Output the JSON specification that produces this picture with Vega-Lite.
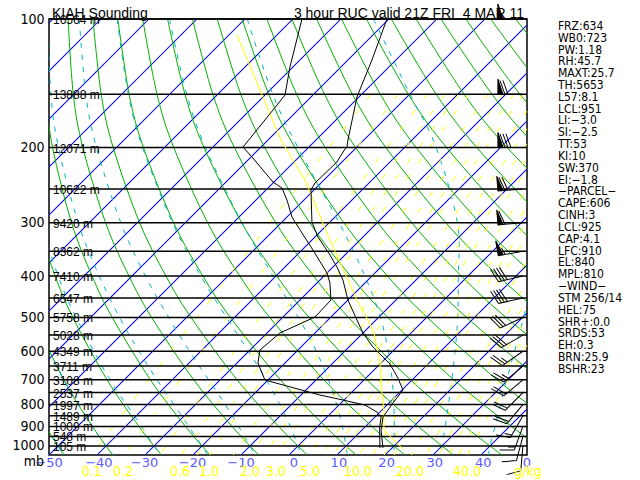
{
"$schema":"https://vega.github.io/schema/vega-lite/v6.json",
"width":478,"height":436,
"autosize":{"type":"none"},
"padding":{"left":49,"top":19,"right":113,"bottom":25},
"background":"white",
"config":{"view":{"stroke":"black","strokeWidth":1.5}},
"datasets":{
"iso":[
{"T":-140,"p":1050,"x":-140},{"T":-140,"p":100,"x":-49.17},
{"T":-130,"p":1050,"x":-130},{"T":-130,"p":100,"x":-39.17},
{"T":-120,"p":1050,"x":-120},{"T":-120,"p":100,"x":-29.17},
{"T":-110,"p":1050,"x":-110},{"T":-110,"p":100,"x":-19.17},
{"T":-100,"p":1050,"x":-100},{"T":-100,"p":100,"x":-9.17},
{"T":-90,"p":1050,"x":-90},{"T":-90,"p":100,"x":0.83},
{"T":-80,"p":1050,"x":-80},{"T":-80,"p":100,"x":10.83},
{"T":-70,"p":1050,"x":-70},{"T":-70,"p":100,"x":20.83},
{"T":-60,"p":1050,"x":-60},{"T":-60,"p":100,"x":30.83},
{"T":-50,"p":1050,"x":-50},{"T":-50,"p":100,"x":40.83},
{"T":-40,"p":1050,"x":-40},{"T":-40,"p":100,"x":50.83},
{"T":-30,"p":1050,"x":-30},{"T":-30,"p":100,"x":60.83},
{"T":-20,"p":1050,"x":-20},{"T":-20,"p":100,"x":70.83},
{"T":-10,"p":1050,"x":-10},{"T":-10,"p":100,"x":80.83},
{"T":0,"p":1050,"x":0},{"T":0,"p":100,"x":90.83},
{"T":10,"p":1050,"x":10},{"T":10,"p":100,"x":100.83},
{"T":20,"p":1050,"x":20},{"T":20,"p":100,"x":110.83},
{"T":30,"p":1050,"x":30},{"T":30,"p":100,"x":120.83},
{"T":40,"p":1050,"x":40},{"T":40,"p":100,"x":130.83}
],
"dry":[
{"th":-50,"p":1050,"x":-46.86},{"th":-50,"p":900,"x":-50.67},{"th":-50,"p":700,"x":-55.97},
{"th":-40,"p":1050,"x":-36.72},{"th":-40,"p":900,"x":-40.96},{"th":-40,"p":700,"x":-46.93},{"th":-40,"p":500,"x":-53.22},
{"th":-30,"p":1050,"x":-26.58},{"th":-30,"p":900,"x":-31.26},{"th":-30,"p":700,"x":-37.9},{"th":-30,"p":500,"x":-45.02},{"th":-30,"p":400,"x":-48.72},{"th":-30,"p":300,"x":-52.39},
{"th":-20,"p":1050,"x":-16.44},{"th":-20,"p":900,"x":-21.56},{"th":-20,"p":700,"x":-28.87},{"th":-20,"p":500,"x":-36.82},{"th":-20,"p":400,"x":-41.02},{"th":-20,"p":300,"x":-45.3},{"th":-20,"p":200,"x":-49.26},{"th":-20,"p":150,"x":-50.75},
{"th":-10,"p":1050,"x":-6.3},{"th":-10,"p":900,"x":-11.85},{"th":-10,"p":700,"x":-19.84},{"th":-10,"p":500,"x":-28.61},{"th":-10,"p":400,"x":-33.33},{"th":-10,"p":300,"x":-38.21},{"th":-10,"p":200,"x":-42.94},{"th":-10,"p":150,"x":-44.94},{"th":-10,"p":100,"x":-46.02},
{"th":0,"p":1050,"x":3.84},{"th":0,"p":900,"x":-2.15},{"th":0,"p":700,"x":-10.81},{"th":0,"p":500,"x":-20.41},{"th":0,"p":400,"x":-25.63},{"th":0,"p":300,"x":-31.12},{"th":0,"p":200,"x":-36.63},{"th":0,"p":150,"x":-39.12},{"th":0,"p":100,"x":-40.84},
{"th":10,"p":1050,"x":13.98},{"th":10,"p":900,"x":7.55},{"th":10,"p":700,"x":-1.78},{"th":10,"p":500,"x":-12.21},{"th":10,"p":400,"x":-17.93},{"th":10,"p":300,"x":-24.03},{"th":10,"p":200,"x":-30.32},{"th":10,"p":150,"x":-33.3},{"th":10,"p":100,"x":-35.66},
{"th":20,"p":1050,"x":24.12},{"th":20,"p":900,"x":17.26},{"th":20,"p":700,"x":7.25},{"th":20,"p":500,"x":-4.0},{"th":20,"p":400,"x":-10.24},{"th":20,"p":300,"x":-16.94},{"th":20,"p":200,"x":-24.0},{"th":20,"p":150,"x":-27.49},{"th":20,"p":100,"x":-30.48},
{"th":30,"p":1050,"x":34.26},{"th":30,"p":900,"x":26.96},{"th":30,"p":700,"x":16.28},{"th":30,"p":500,"x":4.2},{"th":30,"p":400,"x":-2.54},{"th":30,"p":300,"x":-9.85},{"th":30,"p":200,"x":-17.69},{"th":30,"p":150,"x":-21.67},{"th":30,"p":100,"x":-25.3},
{"th":40,"p":1050,"x":44.4},{"th":40,"p":900,"x":36.66},{"th":40,"p":700,"x":25.31},{"th":40,"p":500,"x":12.4},{"th":40,"p":400,"x":5.16},{"th":40,"p":300,"x":-2.76},{"th":40,"p":200,"x":-11.37},{"th":40,"p":150,"x":-15.86},{"th":40,"p":100,"x":-20.12},
{"th":50,"p":1050,"x":54.54},{"th":50,"p":900,"x":46.37},{"th":50,"p":700,"x":34.35},{"th":50,"p":500,"x":20.61},{"th":50,"p":400,"x":12.85},{"th":50,"p":300,"x":4.33},{"th":50,"p":200,"x":-5.06},{"th":50,"p":150,"x":-10.04},{"th":50,"p":100,"x":-14.94},
{"th":60,"p":900,"x":56.07},{"th":60,"p":700,"x":43.38},{"th":60,"p":500,"x":28.81},{"th":60,"p":400,"x":20.55},{"th":60,"p":300,"x":11.42},{"th":60,"p":200,"x":1.26},{"th":60,"p":150,"x":-4.22},{"th":60,"p":100,"x":-9.76},
{"th":70,"p":700,"x":52.41},{"th":70,"p":500,"x":37.01},{"th":70,"p":400,"x":28.25},{"th":70,"p":300,"x":18.51},{"th":70,"p":200,"x":7.57},{"th":70,"p":150,"x":1.59},{"th":70,"p":100,"x":-4.58},
{"th":80,"p":700,"x":61.44},{"th":80,"p":500,"x":45.22},{"th":80,"p":400,"x":35.94},{"th":80,"p":300,"x":25.59},{"th":80,"p":200,"x":13.88},{"th":80,"p":150,"x":7.41},{"th":80,"p":100,"x":0.6},
{"th":90,"p":500,"x":53.42},{"th":90,"p":400,"x":43.64},{"th":90,"p":300,"x":32.68},{"th":90,"p":200,"x":20.2},{"th":90,"p":150,"x":13.22},{"th":90,"p":100,"x":5.78},
{"th":100,"p":500,"x":61.62},{"th":100,"p":400,"x":51.34},{"th":100,"p":300,"x":39.77},{"th":100,"p":200,"x":26.51},{"th":100,"p":150,"x":19.04},{"th":100,"p":100,"x":10.96},
{"th":110,"p":400,"x":59.03},{"th":110,"p":300,"x":46.86},{"th":110,"p":200,"x":32.83},{"th":110,"p":150,"x":24.86},{"th":110,"p":100,"x":16.14},
{"th":120,"p":400,"x":66.73},{"th":120,"p":300,"x":53.95},{"th":120,"p":200,"x":39.14},{"th":120,"p":150,"x":30.67},{"th":120,"p":100,"x":21.32},
{"th":130,"p":300,"x":61.04},{"th":130,"p":200,"x":45.46},{"th":130,"p":150,"x":36.49},{"th":130,"p":100,"x":26.49},
{"th":140,"p":300,"x":68.13},{"th":140,"p":200,"x":51.77},{"th":140,"p":150,"x":42.3},{"th":140,"p":100,"x":31.67},
{"th":150,"p":200,"x":58.08},{"th":150,"p":150,"x":48.12},{"th":150,"p":100,"x":36.85},
{"th":160,"p":200,"x":64.4},{"th":160,"p":150,"x":53.94},{"th":160,"p":100,"x":42.03},
{"th":170,"p":150,"x":59.75},{"th":170,"p":100,"x":47.21}
],
"moist":[
{"tw":40,"p":1050,"x":41.6},{"tw":40,"p":1000,"x":41.88},{"tw":40,"p":900,"x":42.95},{"tw":40,"p":800,"x":44.05},{"tw":40,"p":700,"x":45.36},{"tw":40,"p":600,"x":47.0},{"tw":40,"p":500,"x":48.9},{"tw":40,"p":400,"x":51.0},
{"tw":30,"p":1050,"x":31.6},{"tw":30,"p":1000,"x":31.88},{"tw":30,"p":900,"x":32.55},{"tw":30,"p":800,"x":33.23},{"tw":30,"p":700,"x":33.94},{"tw":30,"p":600,"x":34.61},{"tw":30,"p":500,"x":35.16},{"tw":30,"p":400,"x":35.28},{"tw":30,"p":300,"x":35.09},{"tw":30,"p":200,"x":30.68},{"tw":30,"p":150,"x":25.2},{"tw":30,"p":100,"x":17.6},
{"tw":20,"p":1050,"x":21.85},{"tw":20,"p":1000,"x":21.88},{"tw":20,"p":900,"x":21.95},{"tw":20,"p":800,"x":21.85},{"tw":20,"p":700,"x":21.5},{"tw":20,"p":600,"x":20.71},{"tw":20,"p":500,"x":19.06},{"tw":20,"p":400,"x":15.83},{"tw":20,"p":300,"x":10.44},{"tw":20,"p":200,"x":1.88},{"tw":20,"p":150,"x":-3.38},{"tw":20,"p":100,"x":-8.69},
{"tw":10,"p":1050,"x":12.15},{"tw":10,"p":1000,"x":11.88},{"tw":10,"p":900,"x":11.13},{"tw":10,"p":800,"x":9.95},{"tw":10,"p":700,"x":8.21},{"tw":10,"p":600,"x":5.71},{"tw":10,"p":500,"x":1.96},{"tw":10,"p":400,"x":-3.32},{"tw":10,"p":300,"x":-9.8},{"tw":10,"p":200,"x":-17.4},{"tw":10,"p":150,"x":-21.3},{"tw":10,"p":100,"x":-24.9},
{"tw":0,"p":1050,"x":2.55},{"tw":0,"p":1000,"x":1.88},{"tw":0,"p":900,"x":0.28},{"tw":0,"p":800,"x":-1.9},{"tw":0,"p":700,"x":-4.74},{"tw":0,"p":600,"x":-8.44},{"tw":0,"p":500,"x":-12.99},{"tw":0,"p":400,"x":-18.39},{"tw":0,"p":300,"x":-24.27},{"tw":0,"p":200,"x":-30.5},{"tw":0,"p":150,"x":-33.48},{"tw":0,"p":100,"x":-35.82},
{"tw":-10,"p":1050,"x":-7.18},{"tw":-10,"p":1000,"x":-8.12},{"tw":-10,"p":900,"x":-10.5},{"tw":-10,"p":800,"x":-13.27},{"tw":-10,"p":700,"x":-16.74},{"tw":-10,"p":600,"x":-20.71},{"tw":-10,"p":500,"x":-25.05},{"tw":-10,"p":400,"x":-29.9},{"tw":-10,"p":300,"x":-35.03},{"tw":-10,"p":200,"x":-40.11},{"tw":-10,"p":150,"x":-42.33},{"tw":-10,"p":100,"x":-43.7},
{"tw":-20,"p":1050,"x":-16.9},{"tw":-20,"p":1000,"x":-18.12},{"tw":-20,"p":900,"x":-20.9},{"tw":-20,"p":800,"x":-23.95},{"tw":-20,"p":700,"x":-27.5},{"tw":-20,"p":600,"x":-31.25},{"tw":-20,"p":500,"x":-35.3},{"tw":-20,"p":400,"x":-39.52},{"tw":-20,"p":300,"x":-43.91},{"tw":-20,"p":200,"x":-48.02},{"tw":-20,"p":150,"x":-49.61},{"tw":-20,"p":100,"x":-50.19},
{"tw":-30,"p":1050,"x":-26.4},{"tw":-30,"p":1000,"x":-28.12},{"tw":-30,"p":900,"x":-30.68},{"tw":-30,"p":700,"x":-37.27},{"tw":-30,"p":500,"x":-44.36},{"tw":-30,"p":400,"x":-48.1},{"tw":-30,"p":300,"x":-51.82},
{"tw":-40,"p":1050,"x":-36.6},{"tw":-40,"p":1000,"x":-38.12},{"tw":-40,"p":900,"x":-40.9},{"tw":-40,"p":700,"x":-46.87},{"tw":-40,"p":500,"x":-53.2},
{"tw":-50,"p":1050,"x":-46.8},{"tw":-50,"p":1000,"x":-48.12},{"tw":-50,"p":900,"x":-50.6}
],
"mix":[
{"r":0.1,"p":1050,"x":-41.11},{"r":0.1,"p":600,"x":-24.69},{"r":0.1,"p":300,"x":-3.98},{"r":0.1,"p":150,"x":17.09},
{"r":0.2,"p":1050,"x":-34.29},{"r":0.2,"p":600,"x":-18.22},{"r":0.2,"p":300,"x":2.09},{"r":0.2,"p":150,"x":22.8},
{"r":0.4,"p":1050,"x":-27.0},{"r":0.4,"p":600,"x":-11.32},{"r":0.4,"p":300,"x":8.56},{"r":0.4,"p":150,"x":28.86},
{"r":0.6,"p":1050,"x":-22.49},{"r":0.6,"p":600,"x":-7.06},{"r":0.6,"p":300,"x":12.53},{"r":0.6,"p":150,"x":32.59},
{"r":0.8,"p":1050,"x":-19.18},{"r":0.8,"p":600,"x":-3.93},{"r":0.8,"p":300,"x":15.45},{"r":0.8,"p":150,"x":35.33},
{"r":1,"p":1050,"x":-16.55},{"r":1,"p":600,"x":-1.44},{"r":1,"p":300,"x":17.78},{"r":1,"p":150,"x":37.5},
{"r":1.5,"p":1050,"x":-11.6},{"r":1.5,"p":600,"x":3.22},{"r":1.5,"p":300,"x":22.12},{"r":1.5,"p":150,"x":41.56},
{"r":2,"p":1050,"x":-7.96},{"r":2,"p":600,"x":6.65},{"r":2,"p":300,"x":25.32},{"r":2,"p":150,"x":44.54},
{"r":2.5,"p":1050,"x":-5.05},{"r":2.5,"p":600,"x":9.39},{"r":2.5,"p":300,"x":27.86},{"r":2.5,"p":150,"x":46.91},
{"r":3,"p":1050,"x":-2.63},{"r":3,"p":600,"x":11.66},{"r":3,"p":300,"x":29.97},{"r":3,"p":150,"x":48.88},
{"r":4,"p":1050,"x":1.29},{"r":4,"p":600,"x":15.35},{"r":4,"p":300,"x":33.4},{"r":4,"p":150,"x":52.06},
{"r":5,"p":1050,"x":4.42},{"r":5,"p":600,"x":18.29},{"r":5,"p":300,"x":36.12},{"r":5,"p":150,"x":54.59},
{"r":6,"p":1050,"x":7.02},{"r":6,"p":600,"x":20.73},{"r":6,"p":300,"x":38.38},{"r":6,"p":150,"x":56.7},
{"r":7,"p":1050,"x":9.27},{"r":7,"p":600,"x":22.83},{"r":7,"p":300,"x":40.33},{"r":7,"p":150,"x":58.5},
{"r":8,"p":1050,"x":11.24},{"r":8,"p":600,"x":24.68},{"r":8,"p":300,"x":42.04},{"r":8,"p":150,"x":60.1},
{"r":10,"p":1050,"x":14.6},{"r":10,"p":600,"x":27.83},{"r":10,"p":300,"x":44.95},{"r":10,"p":150,"x":62.79},
{"r":12,"p":1050,"x":17.41},{"r":12,"p":600,"x":30.46},{"r":12,"p":300,"x":47.38},{"r":12,"p":150,"x":65.0},
{"r":14,"p":1050,"x":19.82},{"r":14,"p":600,"x":32.71},{"r":14,"p":300,"x":49.46},{"r":14,"p":150,"x":67.0},
{"r":16,"p":1050,"x":21.95},{"r":16,"p":600,"x":34.7},{"r":16,"p":300,"x":51.29},{"r":16,"p":150,"x":68.7},
{"r":20,"p":1050,"x":25.5},{"r":20,"p":600,"x":38.05},{"r":20,"p":300,"x":54.38},{"r":20,"p":150,"x":71.5},
{"r":24,"p":1050,"x":28.5},{"r":24,"p":600,"x":40.84},{"r":24,"p":300,"x":56.95},
{"r":28,"p":1050,"x":31.1},{"r":28,"p":600,"x":43.24},{"r":28,"p":300,"x":59.16},
{"r":32,"p":1050,"x":33.3},{"r":32,"p":600,"x":45.31},{"r":32,"p":300,"x":61.06},
{"r":36,"p":1050,"x":35.35},{"r":36,"p":600,"x":47.2},{"r":36,"p":300,"x":62.8},
{"r":40,"p":1050,"x":37.15},{"r":40,"p":600,"x":48.88},{"r":40,"p":300,"x":64.34}
],
"plev":[{"p":100},{"p":150},{"p":200},{"p":250},{"p":300},{"p":350},{"p":400},{"p":450},{"p":500},{"p":550},{"p":600},{"p":650},{"p":700},{"p":750},{"p":800},{"p":850},{"p":900},{"p":950},{"p":1000}],
"snd":[
{"k":"T","p":100,"x":20.42},{"k":"T","p":124.7,"x":17.29},{"k":"T","p":152.3,"x":14.17},{"k":"T","p":192,"x":12.29},{"k":"T","p":199.5,"x":12.08},{"k":"T","p":201.6,"x":11.67},{"k":"T","p":216.2,"x":10.0},{"k":"T","p":242.2,"x":5.42},{"k":"T","p":251.5,"x":4.58},{"k":"T","p":298.9,"x":4.79},{"k":"T","p":324,"x":6.04},{"k":"T","p":357,"x":8.54},{"k":"T","p":381,"x":10.0},{"k":"T","p":408.6,"x":11.25},{"k":"T","p":455.2,"x":12.29},{"k":"T","p":507,"x":14.17},{"k":"T","p":543.8,"x":15.42},{"k":"T","p":586.6,"x":17.5},{"k":"T","p":642.8,"x":21.04},{"k":"T","p":693.4,"x":22.71},{"k":"T","p":739.7,"x":23.75},{"k":"T","p":793.2,"x":21.67},{"k":"T","p":855.4,"x":19.6},{"k":"T","p":917.8,"x":19.2},{"k":"T","p":1011,"x":19.58},
{"k":"Td","p":100,"x":2.71},{"k":"Td","p":129.5,"x":0.21},{"k":"Td","p":150.7,"x":-0.83},{"k":"Td","p":163.4,"x":-3.33},{"k":"Td","p":199.5,"x":-9.58},{"k":"Td","p":210.5,"x":-7.71},{"k":"Td","p":240.9,"x":-3.33},{"k":"Td","p":248.8,"x":-1.46},{"k":"Td","p":265.4,"x":-0.42},{"k":"Td","p":290.9,"x":0.63},{"k":"Td","p":317.1,"x":2.71},{"k":"Td","p":347.6,"x":5.0},{"k":"Td","p":393.5,"x":7.92},{"k":"Td","p":415.3,"x":8.54},{"k":"Td","p":455.2,"x":8.75},{"k":"Td","p":498.9,"x":5.42},{"k":"Td","p":543.8,"x":-1.88},{"k":"Td","p":596,"x":-6.04},{"k":"Td","p":639.3,"x":-6.46},{"k":"Td","p":700.9,"x":-5.0},{"k":"Td","p":759.8,"x":6.46},{"k":"Td","p":780.6,"x":11.25},{"k":"Td","p":801.9,"x":15.83},{"k":"Td","p":832.8,"x":18.33},{"k":"Td","p":855.4,"x":19.2},{"k":"Td","p":903.1,"x":18.9},{"k":"Td","p":1011,"x":18.96}
],
"parcel":[
{"p":109,"x":-10.83},{"p":192,"x":-1.67},{"p":238.3,"x":3.33},{"p":329.3,"x":8.54},{"p":408.6,"x":12.29},{"p":455.2,"x":14.17},{"p":507,"x":16.46},{"p":543.8,"x":17.71},{"p":639.3,"x":18.96},{"p":751.7,"x":19.38},{"p":823.9,"x":19.79},{"p":917.8,"x":19.79},{"p":1016.6,"x":23.75}
],
"wind":[
{"p":100,"x":48.75,"dir":270,"b":"b50"},{"p":150,"x":48.75,"dir":270,"b":"b70"},{"p":200,"x":48.75,"dir":270,"b":"b80"},{"p":250,"x":48.75,"dir":265,"b":"b70"},{"p":300,"x":48.75,"dir":265,"b":"b60"},{"p":350,"x":48.75,"dir":260,"b":"b55"},{"p":400,"x":48.75,"dir":257,"b":"b40"},{"p":450,"x":48.75,"dir":257,"b":"b40"},{"p":500,"x":48.75,"dir":245,"b":"b30"},{"p":550,"x":48.75,"dir":240,"b":"b30"},{"p":600,"x":48.75,"dir":235,"b":"b25"},{"p":650,"x":48.75,"dir":230,"b":"b25"},{"p":700,"x":48.75,"dir":230,"b":"b20"},{"p":750,"x":48.75,"dir":225,"b":"b20"},{"p":800,"x":48.75,"dir":220,"b":"b20"},{"p":850,"x":48.75,"dir":210,"b":"b15"},{"p":900,"x":48.75,"dir":200,"b":"b15"},{"p":950,"x":48.75,"dir":195,"b":"b10"},{"p":1000,"x":48.75,"dir":185,"b":"b10"}
],
"hl":[
{"p":100,"x":-49.17,"t":"16564 m"},{"p":150,"x":-49.17,"t":"13888 m"},{"p":200,"x":-49.17,"t":"12071 m"},{"p":250,"x":-49.17,"t":"10622 m"},{"p":300,"x":-49.17,"t":"9420 m"},{"p":350,"x":-49.17,"t":"8362 m"},{"p":400,"x":-49.17,"t":"7410 m"},{"p":450,"x":-49.17,"t":"6547 m"},{"p":500,"x":-49.17,"t":"5758 m"},{"p":550,"x":-49.17,"t":"5028 m"},{"p":600,"x":-49.17,"t":"4349 m"},{"p":650,"x":-49.17,"t":"3711 m"},{"p":700,"x":-49.17,"t":"3108 m"},{"p":750,"x":-49.17,"t":"2537 m"},{"p":800,"x":-49.17,"t":"1997 m"},{"p":850,"x":-49.17,"t":"1489 m"},{"p":900,"x":-49.17,"t":"1009 m"},{"p":950,"x":-49.17,"t":"548 m"},{"p":1000,"x":-49.17,"t":"105 m"}
],
"bl":[
{"p":1096,"x":-50.0,"t":"−50"},{"p":1096,"x":-39.6,"t":"−40"},{"p":1096,"x":-30.1,"t":"−30"},{"p":1096,"x":-20.1,"t":"−20"},{"p":1096,"x":-10.0,"t":"−10"},{"p":1096,"x":1.04,"t":"0"},{"p":1096,"x":10.4,"t":"10"},{"p":1096,"x":20.35,"t":"20"},{"p":1096,"x":30.4,"t":"30"},{"p":1096,"x":40.5,"t":"40"},{"p":1096,"x":49.6,"t":"0"}
],
"yl":[
{"p":1151,"x":-41.1,"t":"0.1"},{"p":1151,"x":-34.58,"t":"0.2"},{"p":1151,"x":-22.71,"t":"0.6"},{"p":1151,"x":-16.67,"t":"1.0"},{"p":1151,"x":-8.13,"t":"2.0"},{"p":1151,"x":-2.71,"t":"3.0"},{"p":1151,"x":4.38,"t":"5.0"},{"p":1151,"x":14.38,"t":"10.0"},{"p":1151,"x":25.21,"t":"20.0"},{"p":1151,"x":37.08,"t":"40.0"},{"p":1151,"x":49.79,"t":"g/kg"}
],
"mb":[{"p":1090,"x":-51.04,"t":"mb"}],
"tl":[{"p":99.2,"x":-49.38,"t":"KIAH Sounding"}],
"tr":[{"p":99.2,"x":48.96,"t":"3 hour RUC valid 21Z FRI\u00a0 4 MAR 11"}],
"info":[{"p":101,"x":56.04,"t":"FRZ:634\nWB0:723\nPW:1.18\nRH:45.7\nMAXT:25.7\nTH:5653\nL57:8.1\nLCL:951\nLI:−3.0\nSI:−2.5\nTT:53\nKI:10\nSW:370\nEI:−1.8\n−PARCEL−\nCAPE:606\nCINH:3\nLCL:925\nCAP:4.1\nLFC:910\nEL:840\nMPL:810\n−WIND−\nSTM 256/14\nHEL:75\nSHR+:0.0\nSRDS:53\nEH:0.3\nBRN:25.9\nBSHR:23"}]
},
"encoding":{
"y":{"field":"p","type":"quantitative","scale":{"type":"log","domain":[100,1050],"reverse":true,"nice":false},
"axis":{"values":[100,200,300,400,500,600,700,800,900,1000],"format":"d","title":null,"ticks":false,"domain":false,"grid":false,"labelFont":"Liberation Sans Narrow, DejaVu Sans Condensed, Liberation Sans, sans-serif","labelFontSize":14,"labelColor":"black","labelPadding":5}}
},
"layer":[
{"data":{"name":"iso"},"mark":{"type":"line","clip":true,"stroke":"#0000d8","color":"#0000d8","strokeWidth":1.05},
"encoding":{"x":{"field":"x","type":"quantitative","scale":{"domain":[-50,49.6],"nice":false,"zero":false},"axis":null},"detail":{"field":"T","type":"nominal"},"order":{"field":"p","type":"quantitative"}}},
{"data":{"name":"dry"},"mark":{"type":"line","clip":true,"color":"#00b000","strokeWidth":1,"interpolate":"cardinal"},
"encoding":{"x":{"field":"x","type":"quantitative","scale":{"domain":[-50,49.6],"nice":false,"zero":false},"axis":null},"detail":{"field":"th","type":"nominal"},"order":{"field":"p","type":"quantitative"}}},
{"data":{"name":"moist"},"mark":{"type":"line","clip":true,"color":"#00b4c0","strokeWidth":1,"strokeDash":[5,7],"interpolate":"cardinal"},
"encoding":{"x":{"field":"x","type":"quantitative","scale":{"domain":[-50,49.6],"nice":false,"zero":false},"axis":null},"detail":{"field":"tw","type":"nominal"},"order":{"field":"p","type":"quantitative"}}},
{"data":{"name":"mix"},"mark":{"type":"line","clip":true,"color":"#ffff00","strokeWidth":1,"strokeDash":[6,14]},
"encoding":{"x":{"field":"x","type":"quantitative","scale":{"domain":[-50,49.6],"nice":false,"zero":false},"axis":null},"detail":{"field":"r","type":"nominal"},"order":{"field":"p","type":"quantitative"}}},
{"data":{"name":"plev"},"mark":{"type":"rule","color":"black","strokeWidth":1.5},"encoding":{}},
{"data":{"name":"parcel"},"mark":{"type":"line","clip":true,"color":"#ffff00","strokeWidth":1},
"encoding":{"x":{"field":"x","type":"quantitative","scale":{"domain":[-50,49.6],"nice":false,"zero":false},"axis":null},"order":{"field":"p","type":"quantitative"}}},
{"data":{"name":"snd"},"mark":{"type":"line","clip":true,"color":"black","strokeWidth":1},
"encoding":{"x":{"field":"x","type":"quantitative","scale":{"domain":[-50,49.6],"nice":false,"zero":false},"axis":null},"detail":{"field":"k","type":"nominal"},"order":{"field":"p","type":"quantitative"}}},
{"data":{"name":"wind"},"mark":{"type":"point","filled":true,"color":"black","stroke":"black","strokeWidth":1,"opacity":1,"size":2500},
"encoding":{"x":{"field":"x","type":"quantitative","scale":{"domain":[-50,49.6],"nice":false,"zero":false},"axis":null},
"shape":{"field":"b","type":"nominal","legend":null,"scale":{"domain":["b10","b15","b20","b25","b30","b40","b50","b55","b60","b70","b80"],
"range":["M0,0L0,-1M0,-1L0.55,-1.2",
"M0,0L0,-1M0,-1L0.55,-1.2M0,-0.88L0.28,-0.98",
"M0,0L0,-1M0,-1L0.55,-1.2M0,-0.88L0.55,-1.08",
"M0,0L0,-1M0,-1L0.55,-1.2M0,-0.88L0.55,-1.08M0,-0.76L0.28,-0.86",
"M0,0L0,-1M0,-1L0.55,-1.2M0,-0.88L0.55,-1.08M0,-0.76L0.55,-0.96",
"M0,0L0,-1M0,-1L0.55,-1.2M0,-0.88L0.55,-1.08M0,-0.76L0.55,-0.96M0,-0.64L0.55,-0.84",
"M0,0L0,-1M0,-1L0.6,-1L0,-0.8Z",
"M0,0L0,-1M0,-1L0.6,-1L0,-0.8ZM0,-0.72L0.28,-0.82",
"M0,0L0,-1M0,-1L0.6,-1L0,-0.8ZM0,-0.72L0.55,-0.92",
"M0,0L0,-1M0,-1L0.6,-1L0,-0.8ZM0,-0.72L0.55,-0.92M0,-0.6L0.55,-0.8",
"M0,0L0,-1M0,-1L0.6,-1L0,-0.8ZM0,-0.72L0.55,-0.92M0,-0.6L0.55,-0.8M0,-0.48L0.55,-0.68"]}},
"angle":{"field":"dir","type":"quantitative","scale":{"domain":[0,360],"range":[0,360]}}}},
{"data":{"name":"hl"},"mark":{"type":"text","align":"left","baseline":"middle","dy":1,"font":"Liberation Sans","fontSize":12,"color":"black"},
"encoding":{"x":{"field":"x","type":"quantitative","scale":{"domain":[-50,49.6],"nice":false,"zero":false},"axis":null},"text":{"field":"t"}}},
{"data":{"name":"bl"},"mark":{"type":"text","align":"center","baseline":"middle","font":"DejaVu Sans","fontSize":13,"color":"#5a5aff"},
"encoding":{"x":{"field":"x","type":"quantitative","scale":{"domain":[-50,49.6],"nice":false,"zero":false},"axis":null},"text":{"field":"t"}}},
{"data":{"name":"yl"},"mark":{"type":"text","align":"center","baseline":"middle","font":"Liberation Sans Narrow, DejaVu Sans Condensed, Liberation Sans, sans-serif","fontSize":14,"color":"#ffff00"},
"encoding":{"x":{"field":"x","type":"quantitative","scale":{"domain":[-50,49.6],"nice":false,"zero":false},"axis":null},"text":{"field":"t"}}},
{"data":{"name":"mb"},"mark":{"type":"text","align":"right","baseline":"middle","font":"Liberation Sans Narrow, DejaVu Sans Condensed, Liberation Sans, sans-serif","fontSize":14,"color":"black"},
"encoding":{"x":{"field":"x","type":"quantitative","scale":{"domain":[-50,49.6],"nice":false,"zero":false},"axis":null},"text":{"field":"t"}}},
{"data":{"name":"tl"},"mark":{"type":"text","align":"left","baseline":"alphabetic","font":"Liberation Sans","fontSize":14,"color":"black"},
"encoding":{"x":{"field":"x","type":"quantitative","scale":{"domain":[-50,49.6],"nice":false,"zero":false},"axis":null},"text":{"field":"t"}}},
{"data":{"name":"tr"},"mark":{"type":"text","align":"right","baseline":"alphabetic","font":"Liberation Sans","fontSize":14,"color":"black"},
"encoding":{"x":{"field":"x","type":"quantitative","scale":{"domain":[-50,49.6],"nice":false,"zero":false},"axis":null},"text":{"field":"t"}}},
{"data":{"name":"info"},"mark":{"type":"text","align":"left","baseline":"top","font":"Liberation Sans Narrow, DejaVu Sans Condensed, Liberation Sans, sans-serif","fontSize":12,"lineBreak":"\n","lineHeight":11.83,"color":"black"},
"encoding":{"x":{"field":"x","type":"quantitative","scale":{"domain":[-50,49.6],"nice":false,"zero":false},"axis":null},"text":{"field":"t"}}}
]
}
